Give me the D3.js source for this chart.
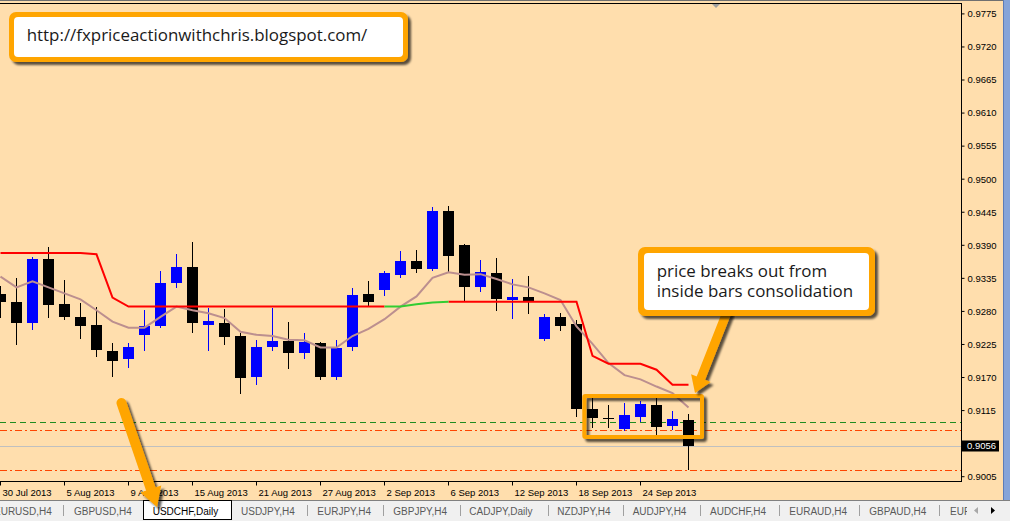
<!DOCTYPE html>
<html><head><meta charset="utf-8">
<script src="https://cdn.jsdelivr.net/npm/d3@7"></script>
<style>body{margin:0;background:#FFDEAD;overflow:hidden}</style>
</head><body>
<script>
// ---------- DATA ----------
const dates = ["2013-07-30","2013-07-31","2013-08-01","2013-08-02","2013-08-05","2013-08-06","2013-08-07","2013-08-08","2013-08-09",
"2013-08-12","2013-08-13","2013-08-14","2013-08-15","2013-08-16","2013-08-19","2013-08-20","2013-08-21","2013-08-22","2013-08-23",
"2013-08-26","2013-08-27","2013-08-28","2013-08-29","2013-08-30","2013-09-02","2013-09-03","2013-09-04","2013-09-05","2013-09-06",
"2013-09-09","2013-09-10","2013-09-11","2013-09-12","2013-09-13","2013-09-16","2013-09-17","2013-09-18","2013-09-19","2013-09-20",
"2013-09-23","2013-09-24","2013-09-25","2013-09-26","2013-09-27"];
const open  = [0.9309,0.9296,0.9260,0.9367,0.9292,0.9271,0.9257,0.9214,0.9200,0.9240,0.9255,0.9328,0.9354,0.9258,0.9261,0.9239,0.9171,0.9220,0.9231,0.9210,0.9228,0.9171,0.9220,0.9309,0.9316,0.9341,0.9364,0.9351,0.9447,0.9391,0.9321,0.9344,0.9299,0.9304,0.9234,0.9271,0.9259,0.9118,0.9103,0.9085,0.9105,0.9124,0.9090,0.9099];
const high  = [0.9322,0.9336,0.9371,0.9387,0.9332,0.9294,0.9287,0.9227,0.9227,0.9282,0.9347,0.9376,0.9396,0.9286,0.9284,0.9244,0.9233,0.9286,0.9262,0.9244,0.9229,0.9233,0.9319,0.9331,0.9347,0.9381,0.9382,0.9454,0.9455,0.9392,0.9366,0.9369,0.9334,0.9339,0.9276,0.9277,0.9266,0.9136,0.9124,0.9128,0.9131,0.9136,0.9114,0.9109];
const low   = [0.9271,0.9225,0.9251,0.9271,0.9268,0.9236,0.9205,0.9173,0.9188,0.9215,0.9254,0.9321,0.9245,0.9215,0.9226,0.9144,0.9160,0.9216,0.9186,0.9203,0.9168,0.9168,0.9215,0.9289,0.9308,0.9337,0.9346,0.9349,0.9346,0.9299,0.9314,0.9282,0.9269,0.9277,0.9233,0.9249,0.9106,0.9087,0.9087,0.9082,0.9097,0.9075,0.9085,0.9018];
const close = [0.9295,0.9260,0.9367,0.9290,0.9270,0.9255,0.9215,0.9198,0.9221,0.9256,0.9327,0.9354,0.9260,0.9264,0.9238,0.9170,0.9221,0.9231,0.9211,0.9229,0.9171,0.9219,0.9307,0.9295,0.9344,0.9364,0.9351,0.9447,0.9372,0.9321,0.9346,0.9301,0.9304,0.9297,0.9271,0.9256,0.9118,0.9103,0.9103,0.9108,0.9126,0.9088,0.9101,0.9056];
const maValues = [0.9338,0.9320,0.9330,0.9320,0.9310,0.9300,0.9282,0.9263,0.9253,0.9253,0.9271,0.9288,0.9282,0.9277,0.9269,0.9246,0.9241,0.9239,0.9233,0.9232,0.9220,0.9220,0.9239,0.9251,0.9267,0.9288,0.9305,0.9336,0.9345,0.9341,0.9342,0.9334,0.9325,0.9320,0.9310,0.9299,0.9255,0.9226,0.9194,0.9174,0.9167,0.9155,0.9144,0.9120];
const trendRed = [0.9377,0.9377,0.9377,0.9377,0.9377,0.9377,0.9375,0.9303,0.9288,0.9288,0.9288,0.9288,0.9288,0.9288,0.9288,0.9288,0.9288,0.9288,0.9288,0.9288,0.9288,0.9288,0.9288,0.9288,0.9288,null,null,null,0.9296,0.9296,0.9296,0.9296,0.9296,0.9296,0.9296,0.9296,0.9296,0.9206,0.9193,0.9193,0.9193,0.9183,0.9158,0.9158];
const trendGreen = [null,null,null,null,null,null,null,null,null,null,null,null,null,null,null,null,null,null,null,null,null,null,null,null,0.9288,0.9288,0.9292,0.9295,0.9296,null,null,null,null,null,null,null,null,null,null,null,null,null,null,null];
const levelPrices = [0.90965, 0.90822, 0.90157];
const bidPrice = 0.9056;
const yTicks = [0.9775,0.9720,0.9665,0.9610,0.9555,0.9500,0.9445,0.9390,0.9335,0.9280,0.9225,0.9170,0.9115,0.9060,0.9005];
const xTickDates = ["2013-07-30","2013-08-05","2013-08-09","2013-08-15","2013-08-21","2013-08-27","2013-09-02","2013-09-06","2013-09-12","2013-09-18","2013-09-24"];
const tabs = ["EURUSD,H4","GBPUSD,H4","USDCHF,Daily","USDJPY,H4","EURJPY,H4","GBPJPY,H4","CADJPY,Daily","NZDJPY,H4","AUDJPY,H4","AUDCHF,H4","EURAUD,H4","GBPAUD,H4","EURCHF,H4"];
const activeTab = "USDCHF,Daily";
const urlText = "http://fxpriceactionwithchris.blogspot.com/";
const noteLines = ["price breaks out from","inside bars consolidation"];

// ---------- LAYOUT ----------
const W = 1010, H = 521, plotR = 961, plotT = 3, plotB = 481;
const tabTextX = [-6, 74, 152.7, 241, 317.3, 393.3, 469.3, 557.3, 632.7, 710, 789.3, 869.3, 950];
const tabSeps = [63, 306.7, 383.3, 460, 547.7, 623.3, 700, 779.3, 859.3, 939.3];
const ORANGE = "#FFA500";
const AX_FONT = "'Liberation Sans', Arial, sans-serif";

const svg = d3.select("body").append("svg").attr("width", W).attr("height", H);
const defs = svg.append("defs");
const f = defs.append("filter").attr("id","sh").attr("x","-20%").attr("y","-20%").attr("width","140%").attr("height","140%");
f.append("feDropShadow").attr("dx",3).attr("dy",3).attr("stdDeviation",1.2).attr("flood-color","#000").attr("flood-opacity",0.65);
defs.append("clipPath").attr("id","plotClip").append("rect").attr("x",0).attr("y",plotT).attr("width",plotR).attr("height",plotB-plotT);
defs.append("clipPath").attr("id","tabClip").append("rect").attr("x",0).attr("y",500).attr("width",967).attr("height",21);

svg.append("rect").attr("width",W).attr("height",H).attr("fill","#FFDEAD");

// scales
const x = d3.scaleBand().domain(dates).range([-7.5, 696.5]).paddingInner(0.3125).paddingOuter(0.15625);
const xc = d => x(d) + x.bandwidth()/2;
const y = d3.scaleLinear().domain([0.9005, 0.9775]).range([476.7, 13.9]);

const plot = svg.append("g").attr("clip-path","url(#plotClip)");

// horizontal levels
const levelStyles = [{c:"#1E8C1E", d:"6,4"}, {c:"#FF4500", d:"7,3,2,3"}, {c:"#FF4500", d:"7,3,2,3"}];
plot.append("line").attr("x1",0).attr("x2",plotR).attr("y1",Math.round(y(bidPrice))+0.5).attr("y2",Math.round(y(bidPrice))+0.5)
  .attr("stroke","#C0C0C0").attr("stroke-width",1);
levelPrices.forEach((p,i)=>{
  const yy = Math.round(y(p))+0.5;
  plot.append("line").attr("x1",0).attr("x2",plotR).attr("y1",yy).attr("y2",yy)
    .attr("stroke",levelStyles[i].c).attr("stroke-width",1).attr("stroke-dasharray",levelStyles[i].d);
});

// candles
const candles = dates.map((d,i)=>({d, o:open[i], h:high[i], l:low[i], c:close[i]}));
const cg = plot.append("g").attr("shape-rendering","crispEdges");
candles.forEach(k=>{
  const col = k.c > k.o ? "#0000FF" : "#000000";
  const cx = xc(k.d);
  cg.append("line").attr("x1",cx).attr("x2",cx).attr("y1",Math.round(y(k.h))).attr("y2",Math.round(y(k.l))+1)
    .attr("stroke",col).attr("stroke-width",1);
  const top = Math.round(y(Math.max(k.o,k.c))), bot = Math.round(y(Math.min(k.o,k.c)));
  if (bot - top < 1) {
    cg.append("line").attr("x1",x(k.d)).attr("x2",x(k.d)+x.bandwidth()).attr("y1",top+0.5).attr("y2",top+0.5)
      .attr("stroke",col).attr("stroke-width",1);
  } else {
    cg.append("rect").attr("x",x(k.d)).attr("y",top).attr("width",x.bandwidth()).attr("height",bot-top).attr("fill",col);
  }
});

// indicator lines
const mkLine = arr => d3.line().defined((v)=>v!=null).x((v,i)=>xc(dates[i])).y(v=>y(v))(arr);
plot.append("path").attr("d",mkLine(maValues)).attr("fill","none").attr("stroke","#BC8F8F").attr("stroke-width",2);
plot.append("path").attr("d",mkLine(trendRed)).attr("fill","none").attr("stroke","#FF0000").attr("stroke-width",2);
plot.append("path").attr("d",mkLine(trendGreen)).attr("fill","none").attr("stroke","#32CD32").attr("stroke-width",2);

// chart frame
svg.append("line").attr("x1",0).attr("x2",1003).attr("y1",0.5).attr("y2",0.5).attr("stroke","#707070");
svg.append("rect").attr("x",-1).attr("y",plotT+0.5).attr("width",plotR+1.5).attr("height",plotB-plotT)
  .attr("fill","none").attr("stroke","#000").attr("stroke-width",1);
svg.append("path").attr("d","M712,4 L720,4 L716,8 Z").attr("fill","#A0A0A0");

// y axis
const ya = svg.append("g").attr("transform",`translate(${plotR+0.5},0)`)
  .call(d3.axisRight(y).tickValues(yTicks).tickFormat(d3.format(".4f")).tickSize(3).tickPadding(3).offset(0));
ya.select(".domain").remove();
ya.selectAll("line").attr("stroke","#000");
ya.selectAll("text").attr("font-family",AX_FONT).attr("font-size","9.5px").attr("fill","#000").attr("dy","0.35em");

// current price label
const bidY = y(bidPrice);
svg.append("rect").attr("x",962).attr("y",Math.round(bidY)-5.5).attr("width",37).attr("height",11).attr("fill","#000");
svg.append("text").attr("x",967).attr("y",bidY).attr("dy","0.35em").attr("font-family",AX_FONT).attr("font-size","9.5px")
  .attr("fill","#fff").text(d3.format(".4f")(bidPrice));

// x axis
const parse = d3.timeParse("%Y-%m-%d"), fmt = d3.timeFormat("%-d %b %Y");
const xa = svg.append("g").attr("transform",`translate(0,${plotB+0.5})`)
  .call(d3.axisBottom(x).tickValues(xTickDates).tickFormat(d=>fmt(parse(d))).tickSize(4).offset(0));
xa.select(".domain").remove();
xa.selectAll("line").attr("stroke","#000");
xa.selectAll("text").attr("font-family",AX_FONT).attr("font-size","9.5px").attr("fill","#000")
  .attr("text-anchor","start").attr("x",2).attr("y",14).attr("dy",0);

// right window stripe
svg.append("rect").attr("x",1003).attr("y",0).attr("width",7).attr("height",500).attr("fill","#86A4D8");
svg.append("line").attr("x1",1003.5).attr("x2",1003.5).attr("y1",0).attr("y2",500).attr("stroke","#5C7CB8");

// highlight rectangle
svg.append("rect").attr("x",584.3).attr("y",396).attr("width",117.7).attr("height",41).attr("rx",1)
  .attr("fill","none").attr("stroke",ORANGE).attr("stroke-width",4).attr("filter","url(#sh)");

// arrows
function arrow(x1,y1,x2,y2,sw,hw,hl){
  const g = svg.append("g").attr("filter","url(#sh)");
  const dx=x2-x1, dy=y2-y1, L=Math.hypot(dx,dy), ux=dx/L, uy=dy/L, nx=-uy, ny=ux;
  const bx=x2-ux*hl, by=y2-uy*hl;
  g.append("line").attr("x1",x1).attr("y1",y1).attr("x2",bx+ux*2).attr("y2",by+uy*2)
    .attr("stroke",ORANGE).attr("stroke-width",sw).attr("stroke-linecap","round");
  g.append("polygon").attr("points",[[bx+nx*hw/2,by+ny*hw/2],[x2,y2],[bx-nx*hw/2,by-ny*hw/2]].map(p=>p.join(",")).join(" "))
    .attr("fill",ORANGE);
}
arrow(727, 312, 695, 393, 9, 21, 16);

// callout boxes
function box(x0,y0,w,h,bw){
  const g = svg.append("g");
  g.append("rect").attr("x",x0).attr("y",y0).attr("width",w).attr("height",h).attr("rx",7).attr("fill",ORANGE).attr("filter","url(#sh)");
  g.append("rect").attr("x",x0+bw).attr("y",y0+bw).attr("width",w-2*bw).attr("height",h-2*bw).attr("rx",4).attr("fill","#fff");
  return g;
}
const NOTE_FONT = "'Open Sans', 'Noto Sans', sans-serif";
const b1 = box(9, 12, 399, 50, 5);
const t1 = b1.append("text").attr("x",26.7).attr("y",41).attr("font-family",NOTE_FONT).attr("font-size",18).attr("fill","#1a1a1a").text(urlText);
t1.attr("font-size", 18*341/t1.node().getComputedTextLength());

const b2 = box(638, 247, 237, 69, 6);
const nl1 = b2.append("text").attr("x",656.7).attr("y",277).attr("font-family",NOTE_FONT).attr("font-size",18).attr("fill","#1a1a1a").text(noteLines[0]);
const nl2 = b2.append("text").attr("x",656.7).attr("y",297).attr("font-family",NOTE_FONT).attr("font-size",18).attr("fill","#1a1a1a").text(noteLines[1]);
const nfs = 18*196.6/nl2.node().getComputedTextLength();
nl1.attr("font-size",nfs); nl2.attr("font-size",nfs);

// tab bar
const tb = svg.append("g");
tb.append("rect").attr("x",0).attr("y",500).attr("width",W).attr("height",21).attr("fill","#F0F0F0");
tb.append("line").attr("x1",0).attr("x2",W).attr("y1",500.5).attr("y2",500.5).attr("stroke","#808080");
tb.append("rect").attr("x",143.5).attr("y",500.5).attr("width",88).attr("height",19).attr("fill","#fff").attr("stroke","#000");
tabSeps.forEach(s=>tb.append("line").attr("x1",Math.round(s)+0.5).attr("x2",Math.round(s)+0.5).attr("y1",505).attr("y2",516).attr("stroke","#A0A0A0"));
const tt = tb.append("g").attr("clip-path","url(#tabClip)");
tabs.forEach((t,i)=>{
  tt.append("text").attr("x",tabTextX[i]).attr("y",514.5).attr("font-family",AX_FONT).attr("font-size","10px")
    .attr("fill", t===activeTab ? "#000" : "#5A5A5A").text(t);
});
tb.append("path").attr("d","M974,510.5 L978,507 L978,514 Z").attr("fill","#A8A8A8");
tb.append("path").attr("d","M991,507 L995,510.5 L991,514 Z").attr("fill","#000");

// left arrow (on top of tabs)
arrow(121.5, 403, 157, 507, 10, 22, 19);
</script>
</body></html>
